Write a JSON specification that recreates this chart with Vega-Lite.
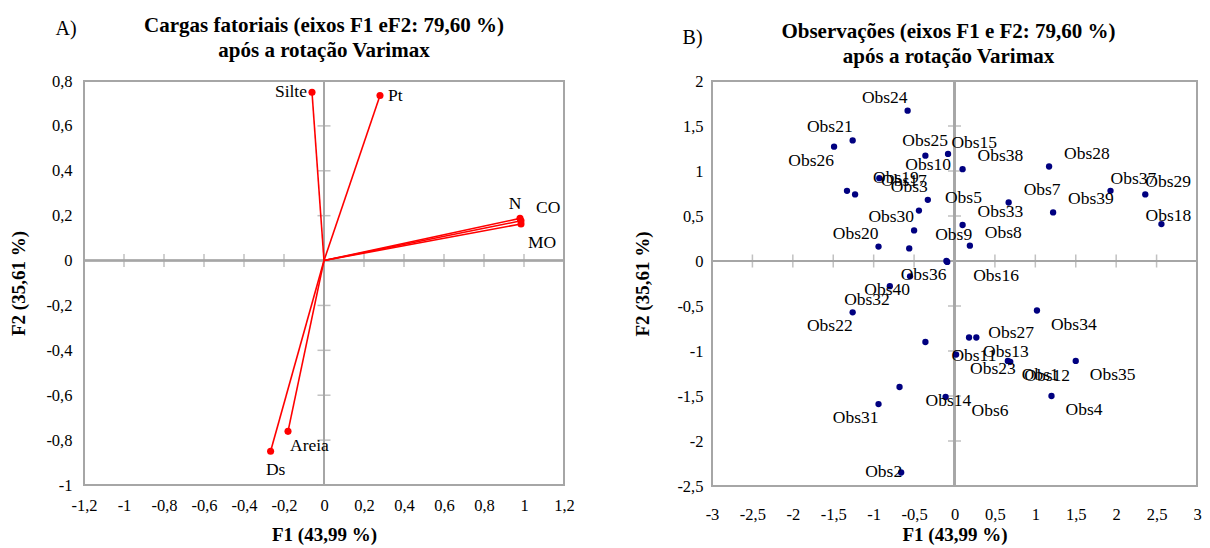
{
  "$schema": "https://vega.github.io/schema/vega-lite/v6.json",
  "background": "white",
  "padding": {"left": 8, "top": 14, "right": 4, "bottom": 2},
  "spacing": 56,
  "config": {
    "font": "Liberation Serif",
    "view": {"stroke": "#a6a6a6", "strokeWidth": 2},
    "axis": {
      "domain": false, "ticks": false, "grid": false,
      "labelOverlap": false, "labelFlush": false, "tickCount": 30,
      "labelFont": "Liberation Serif", "labelFontSize": 16.5, "labelColor": "#000000",
      "titleFont": "Liberation Serif", "titleFontSize": 19, "titleFontWeight": "bold", "titleColor": "#000000"
    },
    "title": {"font": "Liberation Serif", "fontSize": 21, "fontWeight": "bold", "color": "#000000", "anchor": "middle", "frame": "group", "lineHeight": 25},
    "text": {"font": "Liberation Serif", "fontSize": 17.5, "color": "#000000", "baseline": "middle"}
  },
  "datasets": {
    "cargas": [
      {"variavel": "Silte", "F1": -0.06, "F2": 0.75},
      {"variavel": "Pt", "F1": 0.28, "F2": 0.735},
      {"variavel": "N", "F1": 0.98, "F2": 0.188},
      {"variavel": "CO", "F1": 0.985, "F2": 0.177},
      {"variavel": "MO", "F1": 0.985, "F2": 0.163},
      {"variavel": "Areia", "F1": -0.18, "F2": -0.761},
      {"variavel": "Ds", "F1": -0.267, "F2": -0.85}
    ],
    "observacoes": [
      {"obs": "Obs1", "F1": 0.66, "F2": -1.11},
      {"obs": "Obs2", "F1": -0.66, "F2": -2.35},
      {"obs": "Obs3", "F1": -0.33, "F2": 0.68},
      {"obs": "Obs4", "F1": 1.2, "F2": -1.5},
      {"obs": "Obs5", "F1": -0.44, "F2": 0.56},
      {"obs": "Obs6", "F1": -0.11, "F2": -1.51},
      {"obs": "Obs7", "F1": 0.67, "F2": 0.65},
      {"obs": "Obs8", "F1": 0.19, "F2": 0.17},
      {"obs": "Obs9", "F1": -0.56, "F2": 0.14},
      {"obs": "Obs10", "F1": -0.93, "F2": 0.92},
      {"obs": "Obs11", "F1": -0.36, "F2": -0.9},
      {"obs": "Obs12", "F1": 0.69, "F2": -1.12},
      {"obs": "Obs13", "F1": 0.18, "F2": -0.85},
      {"obs": "Obs14", "F1": -0.68, "F2": -1.4},
      {"obs": "Obs15", "F1": -0.36, "F2": 1.17},
      {"obs": "Obs16", "F1": -0.09, "F2": -0.01},
      {"obs": "Obs17", "F1": -1.23, "F2": 0.74},
      {"obs": "Obs18", "F1": 2.56, "F2": 0.41},
      {"obs": "Obs19", "F1": -1.33, "F2": 0.78},
      {"obs": "Obs20", "F1": -0.94, "F2": 0.16},
      {"obs": "Obs21", "F1": -1.26, "F2": 1.34},
      {"obs": "Obs22", "F1": -1.26, "F2": -0.57},
      {"obs": "Obs23", "F1": 0.02, "F2": -1.04},
      {"obs": "Obs24", "F1": -0.58, "F2": 1.67},
      {"obs": "Obs25", "F1": -0.08, "F2": 1.19},
      {"obs": "Obs26", "F1": -1.49, "F2": 1.27},
      {"obs": "Obs27", "F1": 0.27, "F2": -0.85},
      {"obs": "Obs28", "F1": 1.17, "F2": 1.05},
      {"obs": "Obs29", "F1": 2.36, "F2": 0.74},
      {"obs": "Obs30", "F1": -0.5, "F2": 0.34},
      {"obs": "Obs31", "F1": -0.94, "F2": -1.59},
      {"obs": "Obs32", "F1": -0.8, "F2": -0.28},
      {"obs": "Obs33", "F1": 0.1, "F2": 0.4},
      {"obs": "Obs34", "F1": 1.02, "F2": -0.55},
      {"obs": "Obs35", "F1": 1.5, "F2": -1.11},
      {"obs": "Obs36", "F1": -0.1, "F2": 0.0},
      {"obs": "Obs37", "F1": 1.93, "F2": 0.78},
      {"obs": "Obs38", "F1": 0.1, "F2": 1.02},
      {"obs": "Obs39", "F1": 1.22, "F2": 0.54},
      {"obs": "Obs40", "F1": -0.55, "F2": -0.17}
    ],
    "marcasA_F1": [{"v": -1.2}, {"v": -1}, {"v": -0.8}, {"v": -0.6}, {"v": -0.4}, {"v": -0.2}, {"v": 0.2}, {"v": 0.4}, {"v": 0.6}, {"v": 0.8}, {"v": 1}, {"v": 1.2}],
    "marcasA_F2": [{"v": -1}, {"v": -0.8}, {"v": -0.6}, {"v": -0.4}, {"v": -0.2}, {"v": 0.2}, {"v": 0.4}, {"v": 0.6}, {"v": 0.8}],
    "marcasB_F1": [{"v": -3}, {"v": -2.5}, {"v": -2}, {"v": -1.5}, {"v": -1}, {"v": -0.5}, {"v": 0.5}, {"v": 1}, {"v": 1.5}, {"v": 2}, {"v": 2.5}, {"v": 3}],
    "marcasB_F2": [{"v": -2.5}, {"v": -2}, {"v": -1.5}, {"v": -1}, {"v": -0.5}, {"v": 0.5}, {"v": 1}, {"v": 1.5}, {"v": 2}]
  },
  "hconcat": [
    {
      "width": 480,
      "height": 404,
      "title": {"text": ["Cargas fatoriais (eixos F1 eF2: 79,60 %)", "após a rotação  Varimax"], "offset": -42},
      "layer": [
        {
          "data": {"name": "cargas"},
          "mark": {"type": "rule", "color": "#a6a6a6", "strokeWidth": 1.5},
          "encoding": {
            "x": {"datum": 0, "type": "quantitative",
              "scale": {"domain": [-1.2, 1.2], "nice": false, "zero": false},
              "axis": {"values": [-1.2, -1, -0.8, -0.6, -0.4, -0.2, 0, 0.2, 0.4, 0.6, 0.8, 1, 1.2], "tickCount": 30, "labelExpr": "replace(toString(datum.value), '.', ',')", "labelOverlap": false, "labelFlush": false, "title": "F1 (43,99 %)", "labelPadding": 12, "titlePadding": 12}}
          }
        },
        {
          "data": {"name": "cargas"},
          "mark": {"type": "rule", "color": "#a6a6a6", "strokeWidth": 1.5},
          "encoding": {
            "y": {"datum": 0, "type": "quantitative",
              "scale": {"domain": [-1, 0.8], "nice": false, "zero": false},
              "axis": {"values": [-1, -0.8, -0.6, -0.4, -0.2, 0, 0.2, 0.4, 0.6, 0.8], "tickCount": 30, "labelExpr": "replace(toString(datum.value), '.', ',')", "labelOverlap": false, "labelFlush": false, "title": "F2 (35,61 %)", "labelPadding": 12, "titlePadding": 17}}
          }
        },
        {
          "data": {"name": "marcasA_F1"},
          "mark": {"type": "tick", "orient": "vertical", "size": 13, "thickness": 1.5, "color": "#a6a6a6"},
          "encoding": {"x": {"field": "v", "type": "quantitative"}, "y": {"datum": 0, "type": "quantitative"}}
        },
        {
          "data": {"name": "marcasA_F2"},
          "mark": {"type": "tick", "orient": "horizontal", "size": 13, "thickness": 1.5, "color": "#a6a6a6"},
          "encoding": {"y": {"field": "v", "type": "quantitative"}, "x": {"datum": 0, "type": "quantitative"}}
        },
        {
          "data": {"name": "cargas"},
          "mark": {"type": "rule", "color": "#ff0000", "strokeWidth": 1.6},
          "encoding": {
            "x": {"field": "F1", "type": "quantitative"},
            "x2": {"datum": 0},
            "y": {"field": "F2", "type": "quantitative"},
            "y2": {"datum": 0}
          }
        },
        {
          "data": {"name": "cargas"},
          "mark": {"type": "circle", "color": "#ff0000", "opacity": 1, "size": 50},
          "encoding": {"x": {"field": "F1", "type": "quantitative"}, "y": {"field": "F2", "type": "quantitative"}}
        },
        {
          "data": {"name": "cargas"},
          "transform": [{"filter": "datum.variavel == 'Silte'"}],
          "mark": {"type": "text", "align": "right", "dx": -5},
          "encoding": {"x": {"field": "F1", "type": "quantitative"}, "y": {"field": "F2", "type": "quantitative"}, "text": {"field": "variavel"}}
        },
        {
          "data": {"name": "cargas"},
          "transform": [{"filter": "datum.variavel == 'Pt'"}],
          "mark": {"type": "text", "align": "left", "dx": 8},
          "encoding": {"x": {"field": "F1", "type": "quantitative"}, "y": {"field": "F2", "type": "quantitative"}, "text": {"field": "variavel"}}
        },
        {
          "data": {"name": "cargas"},
          "transform": [{"filter": "datum.variavel == 'N'"}],
          "mark": {"type": "text", "align": "center", "dx": -5, "dy": -14},
          "encoding": {"x": {"field": "F1", "type": "quantitative"}, "y": {"field": "F2", "type": "quantitative"}, "text": {"field": "variavel"}}
        },
        {
          "data": {"name": "cargas"},
          "transform": [{"filter": "datum.variavel == 'CO'"}],
          "mark": {"type": "text", "align": "left", "dx": 15, "dy": -13},
          "encoding": {"x": {"field": "F1", "type": "quantitative"}, "y": {"field": "F2", "type": "quantitative"}, "text": {"field": "variavel"}}
        },
        {
          "data": {"name": "cargas"},
          "transform": [{"filter": "datum.variavel == 'MO'"}],
          "mark": {"type": "text", "align": "left", "dx": 7, "dy": 19},
          "encoding": {"x": {"field": "F1", "type": "quantitative"}, "y": {"field": "F2", "type": "quantitative"}, "text": {"field": "variavel"}}
        },
        {
          "data": {"name": "cargas"},
          "transform": [{"filter": "datum.variavel == 'Areia'"}],
          "mark": {"type": "text", "align": "left", "dx": 2, "dy": 15},
          "encoding": {"x": {"field": "F1", "type": "quantitative"}, "y": {"field": "F2", "type": "quantitative"}, "text": {"field": "variavel"}}
        },
        {
          "data": {"name": "cargas"},
          "transform": [{"filter": "datum.variavel == 'Ds'"}],
          "mark": {"type": "text", "align": "center", "dx": 5, "dy": 19},
          "encoding": {"x": {"field": "F1", "type": "quantitative"}, "y": {"field": "F2", "type": "quantitative"}, "text": {"field": "variavel"}}
        },
        {
          "data": {"values": [{}]},
          "mark": {"type": "text", "text": "A)", "fontSize": 20, "align": "center"},
          "encoding": {"x": {"datum": -1.29, "type": "quantitative"}, "y": {"datum": 1.03, "type": "quantitative"}}
        }
      ]
    },
    {
      "width": 485,
      "height": 405,
      "title": {"text": ["Observações  (eixos F1 e F2: 79,60 %)", "após a rotação  Varimax"], "offset": -39, "dx": -6},
      "layer": [
        {
          "data": {"name": "observacoes"},
          "mark": {"type": "rule", "color": "#a6a6a6", "strokeWidth": 1.5},
          "encoding": {
            "x": {"datum": 0, "type": "quantitative",
              "scale": {"domain": [-3, 3], "nice": false, "zero": false},
              "axis": {"values": [-3, -2.5, -2, -1.5, -1, -0.5, 0, 0.5, 1, 1.5, 2, 2.5, 3], "tickCount": 30, "labelExpr": "replace(toString(datum.value), '.', ',')", "labelOverlap": false, "labelFlush": false, "title": "F1 (43,99 %)", "labelPadding": 20, "titlePadding": 3}}
          }
        },
        {
          "data": {"name": "observacoes"},
          "mark": {"type": "rule", "color": "#a6a6a6", "strokeWidth": 1.5},
          "encoding": {
            "y": {"datum": 0, "type": "quantitative",
              "scale": {"domain": [-2.5, 2], "nice": false, "zero": false},
              "axis": {"values": [-2.5, -2, -1.5, -1, -0.5, 0, 0.5, 1, 1.5, 2], "tickCount": 30, "labelExpr": "replace(toString(datum.value), '.', ',')", "labelOverlap": false, "labelFlush": false, "title": "F2 (35,61 %)", "labelPadding": 9, "titlePadding": 24}}
          }
        },
        {
          "data": {"name": "marcasB_F1"},
          "mark": {"type": "tick", "orient": "vertical", "size": 13, "thickness": 1.5, "color": "#a6a6a6"},
          "encoding": {"x": {"field": "v", "type": "quantitative"}, "y": {"datum": 0, "type": "quantitative"}}
        },
        {
          "data": {"name": "marcasB_F2"},
          "mark": {"type": "tick", "orient": "horizontal", "size": 13, "thickness": 1.5, "color": "#a6a6a6"},
          "encoding": {"y": {"field": "v", "type": "quantitative"}, "x": {"datum": 0, "type": "quantitative"}}
        },
        {
          "data": {"name": "observacoes"},
          "mark": {"type": "circle", "color": "#000080", "opacity": 1, "size": 40},
          "encoding": {"x": {"field": "F1", "type": "quantitative"}, "y": {"field": "F2", "type": "quantitative"}}
        },
        {
          "data": {"name": "observacoes"},
          "transform": [{"filter": "indexof(['Obs24','Obs21','Obs25','Obs3','Obs30','Obs20'], datum.obs) >= 0"}],
          "mark": {"type": "text", "align": "right", "dx": 0, "dy": -13},
          "encoding": {"x": {"field": "F1", "type": "quantitative"}, "y": {"field": "F2", "type": "quantitative"}, "text": {"field": "obs"}}
        },
        {
          "data": {"name": "observacoes"},
          "transform": [{"filter": "indexof(['Obs26','Obs22','Obs31','Obs32','Obs40','Obs36'], datum.obs) >= 0"}],
          "mark": {"type": "text", "align": "right", "dx": 0, "dy": 14},
          "encoding": {"x": {"field": "F1", "type": "quantitative"}, "y": {"field": "F2", "type": "quantitative"}, "text": {"field": "obs"}}
        },
        {
          "data": {"name": "observacoes"},
          "transform": [{"filter": "datum.obs == 'Obs2'"}],
          "mark": {"type": "text", "align": "right", "dx": 1, "dy": -1},
          "encoding": {"x": {"field": "F1", "type": "quantitative"}, "y": {"field": "F2", "type": "quantitative"}, "text": {"field": "obs"}}
        },
        {
          "data": {"name": "observacoes"},
          "transform": [{"filter": "indexof(['Obs38','Obs28','Obs7','Obs39','Obs33','Obs8'], datum.obs) >= 0"}],
          "mark": {"type": "text", "align": "left", "dx": 15, "dy": -13},
          "encoding": {"x": {"field": "F1", "type": "quantitative"}, "y": {"field": "F2", "type": "quantitative"}, "text": {"field": "obs"}}
        },
        {
          "data": {"name": "observacoes"},
          "transform": [{"filter": "indexof(['Obs10','Obs19','Obs17','Obs5','Obs9','Obs15'], datum.obs) >= 0"}],
          "mark": {"type": "text", "align": "left", "dx": 26, "dy": -13},
          "encoding": {"x": {"field": "F1", "type": "quantitative"}, "y": {"field": "F2", "type": "quantitative"}, "text": {"field": "obs"}}
        },
        {
          "data": {"name": "observacoes"},
          "transform": [{"filter": "indexof(['Obs4','Obs35','Obs34','Obs1','Obs12','Obs23','Obs13'], datum.obs) >= 0"}],
          "mark": {"type": "text", "align": "left", "dx": 14, "dy": 14},
          "encoding": {"x": {"field": "F1", "type": "quantitative"}, "y": {"field": "F2", "type": "quantitative"}, "text": {"field": "obs"}}
        },
        {
          "data": {"name": "observacoes"},
          "transform": [{"filter": "indexof(['Obs11','Obs14','Obs6','Obs16'], datum.obs) >= 0"}],
          "mark": {"type": "text", "align": "left", "dx": 26, "dy": 14},
          "encoding": {"x": {"field": "F1", "type": "quantitative"}, "y": {"field": "F2", "type": "quantitative"}, "text": {"field": "obs"}}
        },
        {
          "data": {"name": "observacoes"},
          "transform": [{"filter": "datum.obs == 'Obs27'"}],
          "mark": {"type": "text", "align": "left", "dx": 12, "dy": -5},
          "encoding": {"x": {"field": "F1", "type": "quantitative"}, "y": {"field": "F2", "type": "quantitative"}, "text": {"field": "obs"}}
        },
        {
          "data": {"name": "observacoes"},
          "transform": [{"filter": "indexof(['Obs29','Obs37'], datum.obs) >= 0"}],
          "mark": {"type": "text", "align": "left", "dx": 0, "dy": -12},
          "encoding": {"x": {"field": "F1", "type": "quantitative"}, "y": {"field": "F2", "type": "quantitative"}, "text": {"field": "obs"}}
        },
        {
          "data": {"name": "observacoes"},
          "transform": [{"filter": "datum.obs == 'Obs18'"}],
          "mark": {"type": "text", "align": "center", "dx": 7, "dy": -8},
          "encoding": {"x": {"field": "F1", "type": "quantitative"}, "y": {"field": "F2", "type": "quantitative"}, "text": {"field": "obs"}}
        },
        {
          "data": {"values": [{}]},
          "mark": {"type": "text", "text": "B)", "fontSize": 20, "align": "center"},
          "encoding": {"x": {"datum": -3.24, "type": "quantitative"}, "y": {"datum": 2.475, "type": "quantitative"}}
        }
      ]
    }
  ]
}
